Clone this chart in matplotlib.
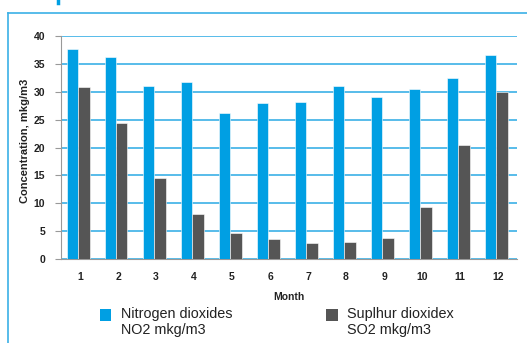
import matplotlib
matplotlib.use('Agg')
import matplotlib.pyplot as plt
import numpy as np
from matplotlib.lines import Line2D
from matplotlib.patches import Rectangle

plt.rcParams['font.family'] = 'Liberation Sans'

# data
months = ['1', '2', '3', '4', '5', '6', '7', '8', '9', '10', '11', '12']
no2 = [37.7, 36.3, 31.0, 31.8, 26.1, 27.9, 28.1, 31.0, 29.1, 30.5, 32.5, 36.6]
so2 = [30.9, 24.4, 14.5, 8.1, 4.7, 3.6, 2.8, 3.1, 3.7, 9.3, 20.5, 30.0]
no2_label = 'Nitrogen dioxides\nNO2 mkg/m3'
so2_label = 'Suplhur dioxidex\nSO2 mkg/m3'

blue = '#009fe3'
dark = '#555555'
grid_blue = '#3bb0e6'

W, H = 527, 343
fig = plt.figure(figsize=(W / 100, H / 100), dpi=100)
ax = fig.add_axes([61 / W, 1 - 259 / H, (517 - 61) / W, (259 - 36) / H])

x = np.arange(len(months))
w = 0.3
b1 = ax.bar(x - w / 2 - 0.05, no2, w, color=blue, edgecolor='white', linewidth=0.4, zorder=3)
b2 = ax.bar(x + w / 2 - 0.05, so2, w, color=dark, edgecolor='white', linewidth=0.4, zorder=3)

ax.set_xlim(-0.5, len(months) - 0.5)
ax.set_ylim(0, 40)
ax.set_yticks(range(0, 41, 5))
ax.set_xticks(x)
ax.set_xticklabels(months)
ax.yaxis.grid(True, color=grid_blue, linewidth=1.2, zorder=0)
ax.set_axisbelow(True)

for s in ['top', 'right']:
    ax.spines[s].set_visible(False)
ax.spines['left'].set_color('#999999')
ax.spines['bottom'].set_color('#999999')

ax.tick_params(axis='y', length=4.5, color='#999999', labelsize=7.5, pad=7, labelcolor='#222222')
ax.tick_params(axis='x', length=0, labelsize=7.5, pad=9.5, labelcolor='#222222')
for lab in ax.get_xticklabels() + ax.get_yticklabels():
    lab.set_fontweight('bold')

ax.set_xlabel('Month', fontsize=7.5, fontweight='bold', labelpad=7, color='#222222')
ax.set_ylabel('Concentration, mkg/m3', fontsize=8, fontweight='bold', color='#222222')
ax.yaxis.set_label_coords(-0.068, 0.53)

# legend drawn by hand so the square sits beside the first line of text
for (x0, x1, tx), col, lab in [((100, 111, 121), blue, no2_label), ((326, 338, 347), dark, so2_label)]:
    fig.add_artist(Rectangle((x0 / W, 1 - 321 / H), (x1 - x0) / W, 12 / H,
                             transform=fig.transFigure, facecolor=col, edgecolor='none'))
    fig.text(tx / W, 1 - 307 / H, lab, fontsize=10.4, va='top', ha='left', color='#222222', linespacing=1.2)

# blue frame round the chart panel
fig.add_artist(Line2D([8 / W, 8 / W], [0, 1 - 12.5 / H], transform=fig.transFigure, color=grid_blue, linewidth=1.2))
fig.add_artist(Line2D([8 / W, 1], [1 - 12.5 / H, 1 - 12.5 / H], transform=fig.transFigure, color=grid_blue, linewidth=1.2))
fig.add_artist(Line2D([58 / W, 58 / W], [1 - 3 / H, 1], transform=fig.transFigure, color=blue, linewidth=2.5))

fig.savefig('out.png', dpi=100)
